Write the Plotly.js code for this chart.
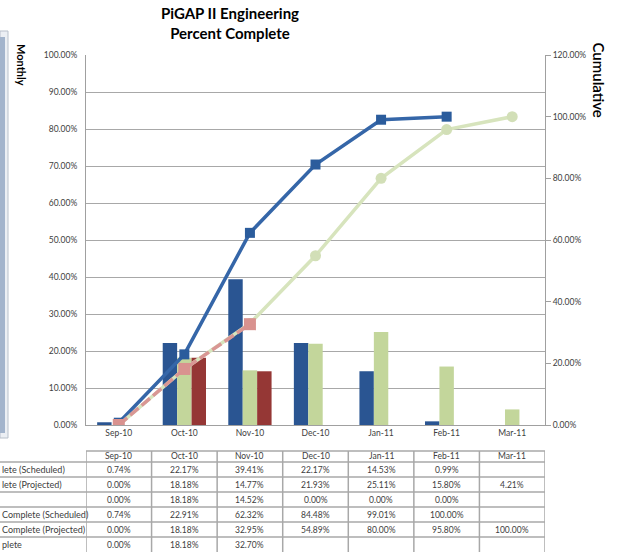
<!DOCTYPE html>
<html>
<head>
<meta charset="utf-8">
<script src="https://cdn.plot.ly/plotly-3.0.1.min.js"></script>
<style>html,body{margin:0;padding:0;background:#fff;}#chart{width:618px;height:552px;}</style>
</head>
<body>
<div id="chart"></div>
<script>
const categories = ['Sep-10','Oct-10','Nov-10','Dec-10','Jan-11','Feb-11','Mar-11'];
const monthlySched  = [0.74, 22.17, 39.41, 22.17, 14.53, 0.99, null];
const monthlyProj   = [0.00, 18.18, 14.77, 21.93, 25.11, 15.80, 4.21];
const monthlyActual = [0.00, 18.18, 14.52, 0.00, 0.00, 0.00, null];
const cumSched  = [0.74, 22.91, 62.32, 84.48, 99.01, 100.00, null];
const cumProj   = [0.00, 18.18, 32.95, 54.89, 80.00, 95.80, 100.00];
const cumActual = [0.00, 18.18, 32.70, null, null, null, null];
const rowLabels = ['lete (Scheduled)', 'lete (Projected)', '', 'Complete (Scheduled)', 'Complete (Projected)', 'plete'];
const tableRows = [monthlySched, monthlyProj, monthlyActual, cumSched, cumProj, cumActual];

// pixel helpers (plot area: x 86..545, y 55..425)
const L = 86, R = 545, T = 55, B = 425;
const px = p => (p - L) / (R - L);
const py = p => (B - p) / (B - T);

const font = 'Lato, "Open Sans", sans-serif';

const traces = [
  {type:'bar', x:categories, y:monthlySched, name:'Monthly (Scheduled)', marker:{color:'#2a5592'}, yaxis:'y'},
  {type:'bar', x:categories, y:monthlyProj, name:'Monthly (Projected)', marker:{color:'#c3d69b'}, yaxis:'y'},
  {type:'bar', x:categories, y:monthlyActual, name:'Monthly Actual', marker:{color:'#953735'}, yaxis:'y'},
  {type:'scatter', mode:'lines+markers', x:categories, y:cumSched, name:'Cumulative (Scheduled)', yaxis:'y2',
   line:{color:'#3566a8', width:3.5}, marker:{symbol:'square', size:10, color:'#2b5c9c'}},
  {type:'scatter', mode:'lines+markers', x:categories, y:cumProj, name:'Cumulative (Projected)', yaxis:'y2',
   line:{color:'#d7e4bd', width:3.5}, marker:{symbol:'circle', size:11, color:'#d2dfb7'}},
  {type:'scatter', mode:'lines+markers', x:categories, y:cumActual, name:'Cumulative Complete', yaxis:'y2',
   line:{color:'#d99694', width:3.5, dash:'11px,4px'}, marker:{symbol:'square', size:12, color:'#d9928f'}}
];

const shapes = [];
const annotations = [];
const lineCol = '#a8a8a8';

// left UI frame
shapes.push({type:'rect', xref:'paper', yref:'paper', x0:px(0), x1:px(8), y0:py(438), y1:py(31), fillcolor:'#eceff4', line:{color:'#b9c0cb', width:1}, layer:'below'});
shapes.push({type:'rect', xref:'paper', yref:'paper', x0:px(0), x1:px(5), y0:py(433), y1:py(37), fillcolor:'#a3b4cc', line:{width:0}, layer:'below'});

// table geometry
const headerTop = 451, headerBot = 462, rowH = 15;
shapes.push({type:'line', xref:'x', yref:'paper', x0:-0.5, x1:categories.length-0.5, y0:py(headerTop), y1:py(headerTop), line:{color:lineCol, width:1.5}});
for (let r = 0; r < tableRows.length; r++) {
  const yLine = headerBot + r*rowH;
  shapes.push({type:'line', xref:'paper', yref:'paper', x0:px(0), x1:1, y0:py(yLine), y1:py(yLine), line:{color:lineCol, width:1.5}});
}
for (let i = 0; i <= categories.length; i++) {
  shapes.push({type:'line', xref:'x', yref:'paper', x0:i-0.5, x1:i-0.5, y0:py(headerTop), y1:py(552), line:{color:lineCol, width:1.5}});
}
const cellFont = {family:font, size:8.5, color:'#404040'};
categories.forEach((c, i) => {
  annotations.push({xref:'x', yref:'paper', x:i, y:py((headerTop+headerBot)/2), text:c, showarrow:false, font:cellFont, xanchor:'center', yanchor:'middle'});
});
tableRows.forEach((row, r) => {
  const yc = py(headerBot + r*rowH + rowH/2);
  if (rowLabels[r]) annotations.push({xref:'paper', yref:'paper', x:px(0), y:yc, text:rowLabels[r], showarrow:false, font:{family:font, size:9, color:'#404040'}, xanchor:'left', yanchor:'middle'});
  row.forEach((v, i) => {
    if (v === null) return;
    annotations.push({xref:'x', yref:'paper', x:i, y:yc, text:v.toFixed(2)+'%', showarrow:false, font:cellFont, xanchor:'center', yanchor:'middle'});
  });
});

// axis titles (rotated, top aligned like Excel)
annotations.push({xref:'paper', yref:'paper', x:px(21), y:py(42), text:'<b>Monthly</b>', textangle:90, showarrow:false, xanchor:'center', yanchor:'top', font:{family:font, size:11, color:'#000'}});
annotations.push({xref:'paper', yref:'paper', x:px(598), y:py(40), text:'Cumulative', textangle:90, showarrow:false, xanchor:'center', yanchor:'top', font:{family:font, size:15, color:'#000', weight:600}});

const tickFont = {family:font, size:8.5, color:'#404040'};
const layout = {
  width:618, height:552,
  margin:{l:L, r:618-R, t:T, b:552-B, pad:0},
  paper_bgcolor:'#fff', plot_bgcolor:'#fff',
  showlegend:false,
  barmode:'group', bargap:0.34, bargroupgap:0,
  title:{text:'<b>PiGAP II Engineering<br>Percent Complete</b>', x:230/618, xref:'container', xanchor:'center', y:1-19/552, yref:'container', yanchor:'top', font:{family:font, size:15, color:'#000'}},
  xaxis:{type:'category', range:[-0.5, categories.length-0.5], showgrid:false, showline:true, linecolor:'#a0a0a0', linewidth:1, ticks:'', tickfont:tickFont, zeroline:false, fixedrange:true},
  yaxis:{range:[0,100], dtick:10, tickformat:'.2f', ticksuffix:'%', showgrid:true, gridcolor:'#a8a8a8', gridwidth:1, showline:true, linecolor:'#a0a0a0', ticks:'', tickfont:tickFont, ticklabelstandoff:6, zeroline:false},
  yaxis2:{range:[0,120], dtick:20, tickformat:'.2f', ticksuffix:'%', overlaying:'y', side:'right', showgrid:false, showline:true, linecolor:'#a0a0a0', ticks:'outside', ticklen:5, tickcolor:'#a0a0a0', tickfont:tickFont, zeroline:false},
  shapes:shapes,
  annotations:annotations
};
Plotly.newPlot('chart', traces, layout, {staticPlot:true, displayModeBar:false});
</script>
</body>
</html>
